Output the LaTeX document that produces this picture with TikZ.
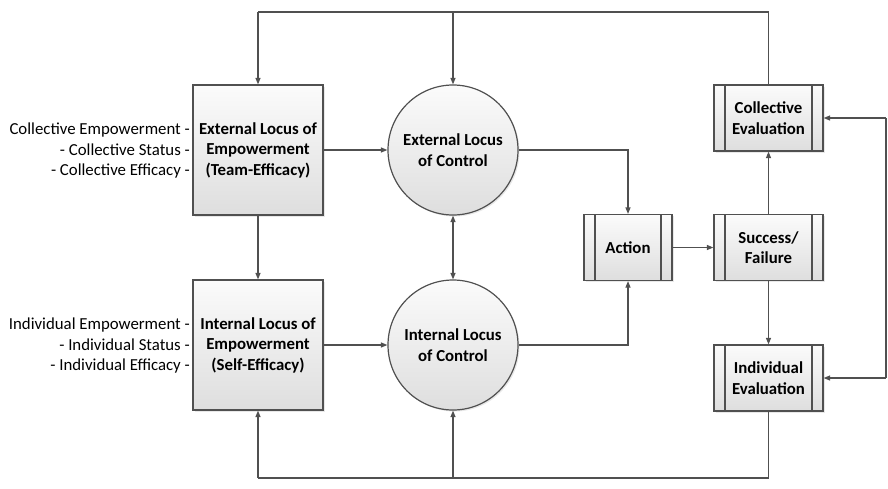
\documentclass[tikz,border=0pt]{standalone}
\usepackage{fontspec}
\setmainfont{Carlito}
\usetikzlibrary{arrows.meta,shadows}
\definecolor{lc}{HTML}{505050}
\definecolor{fillhi}{HTML}{FBFBFB}
\definecolor{filllo}{HTML}{DEDEDE}
\newcommand{\txtsize}{\fontsize{16.8}{20.5}\selectfont}
\tikzset{
  base/.style={draw=lc, line width=1.2pt, top color=fillhi, bottom color=filllo,
    align=center, font=\txtsize\bfseries, inner sep=2pt,
    drop shadow={opacity=0.18, shadow xshift=1.5pt, shadow yshift=-1.5pt}},
  bigbox/.style={base, rectangle, minimum width=130pt, minimum height=130pt},
  ring/.style={base, circle, minimum size=130pt},
  proc/.style={base, rectangle, minimum height=66pt,
    path picture={\draw[lc, line width=1.2pt]
      ([xshift=11pt]path picture bounding box.north west) -- ([xshift=11pt]path picture bounding box.south west)
      ([xshift=-11pt]path picture bounding box.north east) -- ([xshift=-11pt]path picture bounding box.south east);}},
  lbl/.style={align=right, inner sep=0pt, anchor=east, font=\txtsize},
  link/.style={draw=lc, line width=1.2pt},
  arr/.style={link, -{Triangle[length=6.5pt, width=5pt]}},
  darr/.style={link, {Triangle[length=6.5pt, width=5pt]}-{Triangle[length=6.5pt, width=5pt]}}
}
\begin{document}
\begin{tikzpicture}[x=1pt, y=-1pt]
\useasboundingbox (0,0) rectangle (888,488);

% left-hand boxes
\node[bigbox] (extbox) at (258,150) {External Locus of\\Empowerment\\(Team-Efficacy)};
\node[bigbox] (intbox) at (258,345) {Internal Locus of\\Empowerment\\(Self-Efficacy)};

% side labels
\node[lbl] (extlbl) at (190,151) {Collective Empowerment -\\- Collective Status -\\- Collective Efficacy -};
\node[lbl] (intlbl) at (190,346) {Individual Empowerment -\\- Individual Status -\\- Individual Efficacy -};

% circles
\node[ring] (extc) at (453,150) {External Locus\\of Control};
\node[ring] (intc) at (453,345) {Internal Locus\\of Control};

% process boxes
\node[proc, minimum width=88pt] (act) at (628,247.5) {Action};
\node[proc, minimum width=109pt] (succ) at (768.5,247.5) {Success/\\Failure};
\node[proc, minimum width=109pt] (coll) at (768.5,118) {Collective\\Evaluation};
\node[proc, minimum width=109pt] (indiv) at (768.5,378) {Individual\\Evaluation};

% routing points
\coordinate (tl) at (258,12);
\coordinate (tm) at (453,12);
\coordinate (tr) at (768.5,12);
\coordinate (bl) at (258,478);
\coordinate (bm) at (453,478);
\coordinate (br) at (768.5,478);
\coordinate (rt) at (886,118);
\coordinate (rb) at (886,378);

% connectors
\draw[arr] (extbox) -- (extc);
\draw[arr] (intbox) -- (intc);
\draw[arr] (extbox) -- (intbox);
\draw[darr] (extc) -- (intc);
\draw[arr] (extc.east) -| (act.north);
\draw[arr] (intc.east) -| (act.south);
\draw[arr] (act) -- (succ);
\draw[arr] (succ) -- (coll);
\draw[arr] (succ) -- (indiv);

% top feedback loop
\draw[link] (coll.north) -- (tr) -- (tl);
\draw[arr] (tl) -- (extbox.north);
\draw[arr] (tm) -- (extc.north);

% bottom feedback loop
\draw[link] (indiv.south) -- (br) -- (bl);
\draw[arr] (bl) -- (intbox.south);
\draw[arr] (bm) -- (intc.south);

% right-hand link between evaluations
\draw[link] (rt) -- (rb);
\draw[arr] (rt) -- (coll.east);
\draw[arr] (rb) -- (indiv.east);
\end{tikzpicture}
\end{document}
